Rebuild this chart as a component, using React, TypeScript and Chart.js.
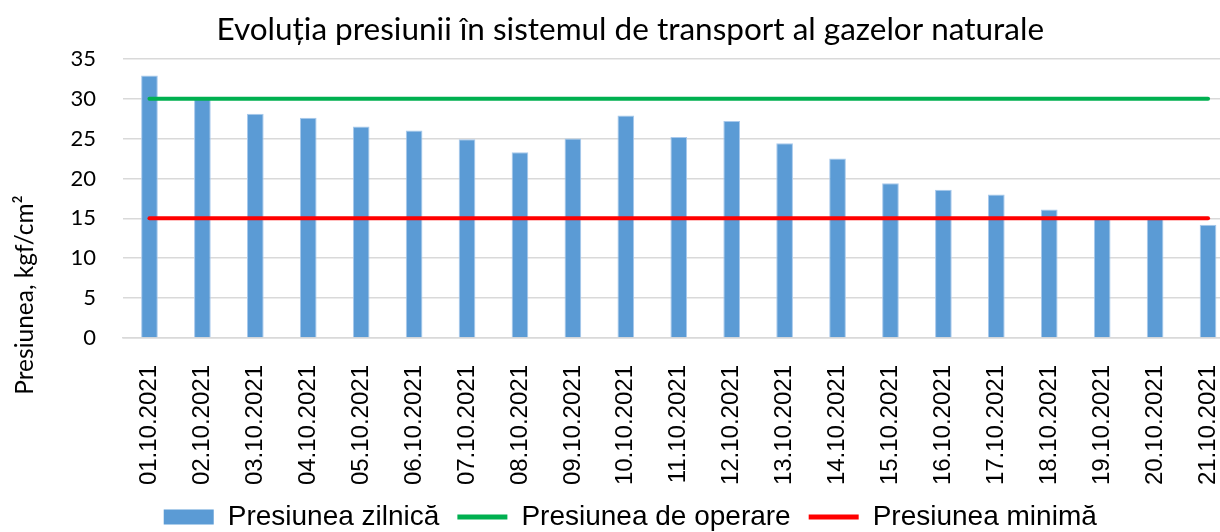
import React, { useEffect, useRef } from "react";
import { Chart, registerables } from "chart.js";

Chart.register(...registerables);

const categories = [
  "01.10.2021", "02.10.2021", "03.10.2021", "04.10.2021", "05.10.2021", "06.10.2021", "07.10.2021",
  "08.10.2021", "09.10.2021", "10.10.2021", "11.10.2021", "12.10.2021", "13.10.2021", "14.10.2021",
  "15.10.2021", "16.10.2021", "17.10.2021", "18.10.2021", "19.10.2021", "20.10.2021", "21.10.2021",
];
const dailyPressure = [32.9, 30.0, 28.1, 27.6, 26.5, 26.0, 24.9, 23.3, 25.0, 27.9, 25.2, 27.2, 24.4, 22.5, 19.4, 18.6, 18.0, 16.1, 15.0, 15.0, 14.2];
const operatingPressure = categories.map(() => 30);
const minimumPressure = categories.map(() => 15);
const yTicks = [0, 5, 10, 15, 20, 25, 30, 35];

const titleText = "Evoluția presiunii în sistemul de transport al gazelor naturale";
const yTitle = "Presiunea, kgf/cm²";
const seriesNames = ["Presiunea zilnică", "Presiunea de operare", "Presiunea minimă"];

const yTitlePlugin = {
  id: "yTitleText",
  afterDraw(chart: any) {
    const ctx = chart.ctx;
    ctx.save();
    ctx.translate(25, 295);
    ctx.rotate(-Math.PI / 2);
    ctx.font = "24.5px Lato";
    ctx.fillStyle = "#000";
    ctx.textAlign = "center";
    ctx.textBaseline = "middle";
    ctx.fillText(yTitle, 0, 0);
    ctx.restore();
  },
};

export default function App() {
  const ref = useRef<HTMLCanvasElement | null>(null);
  useEffect(() => {
    if (!ref.current) return;
    const chart = new Chart(ref.current, {
      type: "bar",
      data: {
        labels: categories,
        datasets: [
          {
            type: "line",
            label: seriesNames[1],
            data: operatingPressure,
            borderColor: "#00B050",
            backgroundColor: "#00B050",
            borderWidth: 4,
            borderCapStyle: "round",
            pointRadius: 0,
            order: 1,
          } as any,
          {
            type: "line",
            label: seriesNames[2],
            data: minimumPressure,
            borderColor: "#FF0000",
            backgroundColor: "#FF0000",
            borderWidth: 4,
            borderCapStyle: "round",
            pointRadius: 0,
            order: 0,
          } as any,
          {
            type: "bar",
            label: seriesNames[0],
            data: dailyPressure,
            backgroundColor: "#5B9BD5",
            borderColor: "#A8C9EC",
            borderWidth: 1,
            barPercentage: 0.315,
            categoryPercentage: 1,
            order: 2,
          },
        ],
      },
      plugins: [yTitlePlugin],
      options: {
        animation: false,
        responsive: true,
        maintainAspectRatio: false,
        layout: { padding: { left: 26, right: 10.5, top: 0, bottom: 0 } },
        plugins: {
          title: {
            display: true,
            text: titleText,
            color: "#000",
            font: { family: "Lato", size: 31.5, weight: "normal" },
            padding: { top: 11, bottom: 10 },
          },
          legend: {
            position: "bottom",
            labels: {
              color: "#000",
              font: { family: "Liberation Sans", size: 28 },
              usePointStyle: true,
              pointStyleWidth: 50,
              boxHeight: 15,
              padding: 18,
              sort: (a: any, b: any) => {
                const order = [2, 0, 1];
                return order.indexOf(a.datasetIndex) - order.indexOf(b.datasetIndex);
              },
              generateLabels: (c: any) =>
                c.data.datasets.map((ds: any, i: number) => ({
                  text: ds.label,
                  datasetIndex: i,
                  fillStyle: ds.type === "bar" ? "#5B9BD5" : ds.borderColor,
                  strokeStyle: ds.type === "bar" ? "#5B9BD5" : ds.borderColor,
                  lineWidth: ds.type === "bar" ? 0 : 5,
                  pointStyle: ds.type === "bar" ? "rect" : "line",
                  hidden: false,
                  fontColor: "#000",
                })),
            },
          },
          tooltip: { enabled: false },
        },
        scales: {
          x: {
            offset: true,
            grid: { display: false },
            border: { color: "#D9D9D9", width: 1.5 },
            ticks: {
              color: "#000",
              font: { family: "Liberation Sans", size: 24 },
              minRotation: 90,
              maxRotation: 90,
              autoSkip: false,
              padding: 19,
            },
            afterFit: (s: any) => {
              s.height = 147;
              s.paddingLeft = 0;
              s.paddingRight = 0;
            },
          },
          y: {
            min: 0,
            max: 35,
            afterBuildTicks: (s: any) => {
              s.ticks = yTicks.map((v) => ({ value: v }));
            },
            grid: { color: "#D9D9D9", lineWidth: 1.5, drawTicks: false },
            border: { display: false },
            ticks: {
              color: "#000",
              font: { family: "Lato", size: 22 },
              padding: 27,
            },
            afterFit: (s: any) => {
              s.width = 97;
              s.paddingTop = 0;
              s.paddingBottom = 0;
            },
          },
        },
      },
    });
    return () => chart.destroy();
  }, []);
  return (
    <div style={{ position: "fixed", left: 0, top: 0, width: 1245, height: 541, background: "#fff" }}>
      <canvas ref={ref} />
    </div>
  );
}
